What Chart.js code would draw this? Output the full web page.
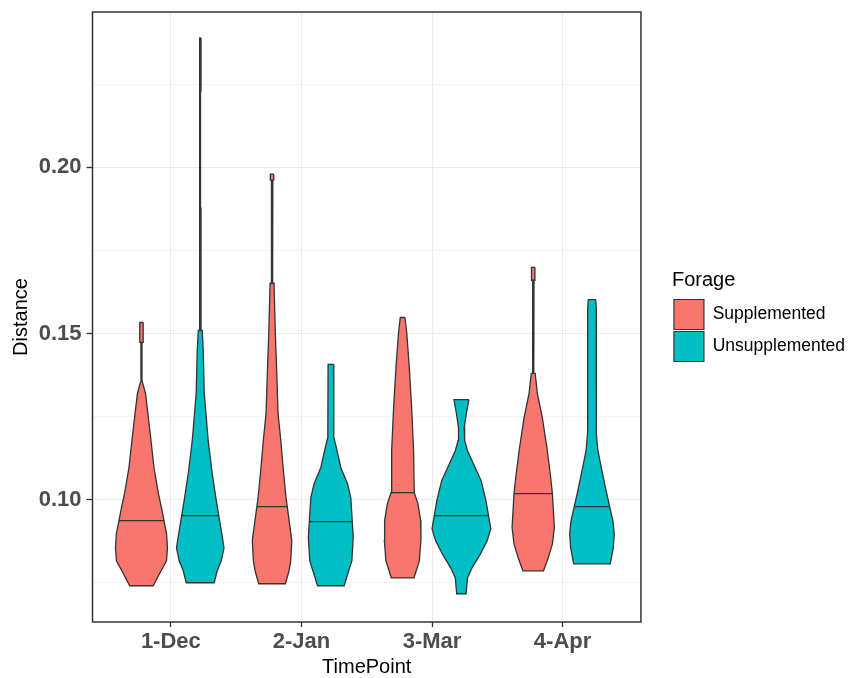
<!DOCTYPE html>
<html>
<head>
<meta charset="utf-8">
<script src="https://cdn.jsdelivr.net/npm/chart.js@4.4.0/dist/chart.umd.min.js"></script>
<style>
  html, body { margin: 0; padding: 0; background: #fff; }
  #wrap { width: 860px; height: 678px; }
</style>
</head>
<body>
<div id="wrap"><canvas id="violinChart"></canvas></div>
<script>
const categories = ["1-Dec", "2-Jan", "3-Mar", "4-Apr"];
const groups = ["Supplemented", "Unsupplemented"];
const groupColors = ["#F8766D", "#00BFC4"];

// violin outlines: [Distance, half width in category units], top to bottom
const decSup = [[0.1533,0.013],[0.1473,0.013],[0.1473,0.004],[0.1358,0.004],[0.1343,0.015],[0.1319,0.031],[0.1277,0.044],[0.1199,0.067],[0.1096,0.096],[0.1018,0.130],[0.0976,0.153],[0.0898,0.192],[0.0855,0.199],[0.0816,0.192],[0.0777,0.138],[0.0741,0.090]];
const decUns = [[0.2389,0.006],[0.2229,0.006],[0.2229,0.002],[0.1877,0.002],[0.1877,0.006],[0.1509,0.006],[0.1509,0.015],[0.1449,0.023],[0.1319,0.031],[0.1178,0.061],[0.1078,0.092],[0.0997,0.123],[0.0907,0.161],[0.0855,0.182],[0.0816,0.161],[0.0786,0.130],[0.0750,0.107]];
const janSup = [[0.1979,0.013],[0.1961,0.013],[0.1961,0.006],[0.1877,0.006],[0.1877,0.002],[0.1723,0.002],[0.1723,0.006],[0.1651,0.006],[0.1651,0.015],[0.1503,0.025],[0.1404,0.034],[0.1259,0.046],[0.1178,0.067],[0.1087,0.087],[0.1006,0.107],[0.0916,0.138],[0.0877,0.151],[0.0816,0.143],[0.0786,0.130],[0.0747,0.102]];
const janUns = [[0.1407,0.021],[0.1187,0.023],[0.1157,0.042],[0.1096,0.077],[0.1048,0.128],[0.1006,0.153],[0.0886,0.172],[0.0816,0.161],[0.0777,0.130],[0.0741,0.102]];
const marSup = [[0.1548,0.018],[0.1500,0.032],[0.1398,0.051],[0.1277,0.069],[0.1148,0.084],[0.1021,0.089],[0.0988,0.117],[0.0937,0.138],[0.0877,0.140],[0.0816,0.128],[0.0765,0.087]];
const marUns = [[0.1301,0.057],[0.1259,0.038],[0.1217,0.022],[0.1178,0.025],[0.1148,0.046],[0.1108,0.092],[0.1057,0.151],[0.0997,0.188],[0.0913,0.225],[0.0877,0.198],[0.0837,0.146],[0.0795,0.082],[0.0765,0.047],[0.0717,0.036]];
const aprSup = [[0.1699,0.013],[0.1660,0.013],[0.1660,0.006],[0.1545,0.006],[0.1545,0.002],[0.1440,0.002],[0.1440,0.006],[0.1380,0.006],[0.1380,0.015],[0.1319,0.032],[0.1247,0.070],[0.1148,0.108],[0.1066,0.134],[0.1018,0.147],[0.0916,0.162],[0.0867,0.147],[0.0825,0.115],[0.0786,0.079]];
const aprUns = [[0.1602,0.028],[0.1575,0.034],[0.1410,0.032],[0.1199,0.034],[0.1148,0.045],[0.1066,0.087],[0.1006,0.120],[0.0937,0.160],[0.0898,0.171],[0.0855,0.163],[0.0807,0.140]];

const supMedians = [0.0937, 0.0979, 0.1021, 0.1018];
const unsMedians = [0.0952, 0.0934, 0.0952, 0.0979];

const yTicks = [0.075, 0.10, 0.125, 0.15, 0.175, 0.20, 0.225];
const yTickLabels = ["", "0.10", "", "0.15", "", "0.20", ""];

const profiles = [[decSup, janSup, marSup, aprSup], [decUns, janUns, marUns, aprUns]];
const medians = [supMedians, unsMedians];
const dodge = 0.225;

function widthAt(prof, v) {
  for (let k = 0; k < prof.length - 1; k++) {
    const [v1, w1] = prof[k];
    const [v2, w2] = prof[k + 1];
    if (v <= v1 && v >= v2 && v1 !== v2) {
      return w1 + (w2 - w1) * (v1 - v) / (v1 - v2);
    }
  }
  return 0;
}

const datasets = [];
profiles.forEach((list, g) => {
  list.forEach((prof, i) => {
    const c = i + 1 + (g === 0 ? -dodge : dodge);
    const right = prof.map(([v, w]) => ({ x: c + w, y: v }));
    const left = prof.slice().reverse().map(([v, w]) => ({ x: c - w, y: v }));
    const pts = right.concat(left);
    pts.push(right[0]);
    datasets.push({
      label: groups[g],
      data: pts,
      showLine: true,
      fill: "shape",
      backgroundColor: groupColors[g],
      borderColor: "#333333",
      borderWidth: 1.3,
      pointRadius: 0,
      tension: 0,
      yAxisID: "y",
      order: 1
    });
    const m = medians[g][i];
    const w = widthAt(prof, m);
    datasets.push({
      label: groups[g] + " median",
      data: [{ x: c - w, y: m }, { x: c + w, y: m }],
      showLine: true,
      fill: false,
      borderColor: "#333333",
      borderWidth: 1.3,
      pointRadius: 0,
      yAxisID: "y",
      order: 0
    });
  });
});

const panelBorder = {
  id: "panelBorder",
  afterDatasetsDraw(chart) {
    const { ctx, chartArea: a } = chart;
    ctx.save();
    ctx.strokeStyle = "#333333";
    ctx.lineWidth = 1.5;
    ctx.strokeRect(a.left, a.top, a.right - a.left, a.bottom - a.top);
    ctx.restore();
  }
};

const ctx = document.getElementById("violinChart").getContext("2d");
new Chart(ctx, {
  type: "scatter",
  data: { datasets: datasets },
  options: {
    responsive: true,
    maintainAspectRatio: false,
    animation: false,
    layout: { padding: { left: 8, top: 12, right: 5, bottom: 0 } },
    plugins: {
      tooltip: { enabled: false },
      legend: {
        position: "right",
        fullSize: false,
        align: "center",
        maxWidth: 240,
        onClick: null,
        title: {
          display: true,
          text: "Forage",
          position: "start",
          color: "#000",
          font: { family: "Liberation Sans", size: 20 },
          padding: { top: 0, bottom: 3 }
        },
        labels: {
          boxWidth: 30,
          boxHeight: 30,
          padding: 2,
          color: "#000",
          font: { family: "Liberation Sans", size: 17.5 },
          generateLabels: () => groups.map((name, g) => ({
            text: name,
            fillStyle: groupColors[g],
            strokeStyle: "#333333",
            lineWidth: 1.2,
            hidden: false,
            datasetIndex: g * 2
          }))
        }
      }
    },
    scales: {
      x: {
        type: "linear",
        min: 0.4,
        max: 4.6,
        afterBuildTicks: (s) => { s.ticks = categories.map((c, i) => ({ value: i + 1 })); },
        afterFit: (s) => { s.height = 56; s.paddingLeft = 0; s.paddingRight = 0; },
        ticks: {
          autoSkip: false,
          maxRotation: 0,
          padding: 2,
          color: "#4D4D4D",
          font: { family: "Liberation Sans", size: 22, weight: "bold" },
          callback: (v, i) => categories[i]
        },
        grid: { color: "#EBEBEB", lineWidth: 1, tickLength: 5, tickColor: "#333333", tickWidth: 1.3 },
        border: { display: false },
        title: {
          display: true,
          text: "TimePoint",
          color: "#000",
          font: { family: "Liberation Sans", size: 20, lineHeight: 1.1 },
          padding: { top: 0, bottom: 0 }
        }
      },
      y: {
        type: "linear",
        position: "left",
        min: 0.0632,
        max: 0.2467,
        afterBuildTicks: (s) => { s.ticks = yTicks.map(v => ({ value: v })); },
        afterFit: (s) => { s.width = 84.5; s.paddingTop = 0; s.paddingBottom = 0; },
        ticks: {
          padding: 5,
          color: "#4D4D4D",
          font: { family: "Liberation Sans", size: 22, weight: "bold" },
          callback: (v, i) => yTickLabels[i]
        },
        grid: {
          color: (c) => yTickLabels[c.index] ? "#EBEBEB" : "#F2F2F2",
          lineWidth: 1,
          tickLength: 6,
          tickWidth: 1.3,
          tickColor: (c) => yTickLabels[c.index] ? "#333333" : "rgba(0,0,0,0)"
        },
        border: { display: false },
        title: {
          display: true,
          text: "Distance",
          color: "#000",
          font: { family: "Liberation Sans", size: 20, lineHeight: 1.2 },
          padding: { top: 1, bottom: 0 }
        }
      },
      gap: {
        type: "linear",
        position: "right",
        grid: { display: false, drawTicks: false },
        border: { display: false },
        ticks: { display: false },
        afterFit: (s) => { s.width = 31; s.paddingTop = 0; s.paddingBottom = 0; }
      }
    }
  },
  plugins: [panelBorder]
});
</script>
</body>
</html>
